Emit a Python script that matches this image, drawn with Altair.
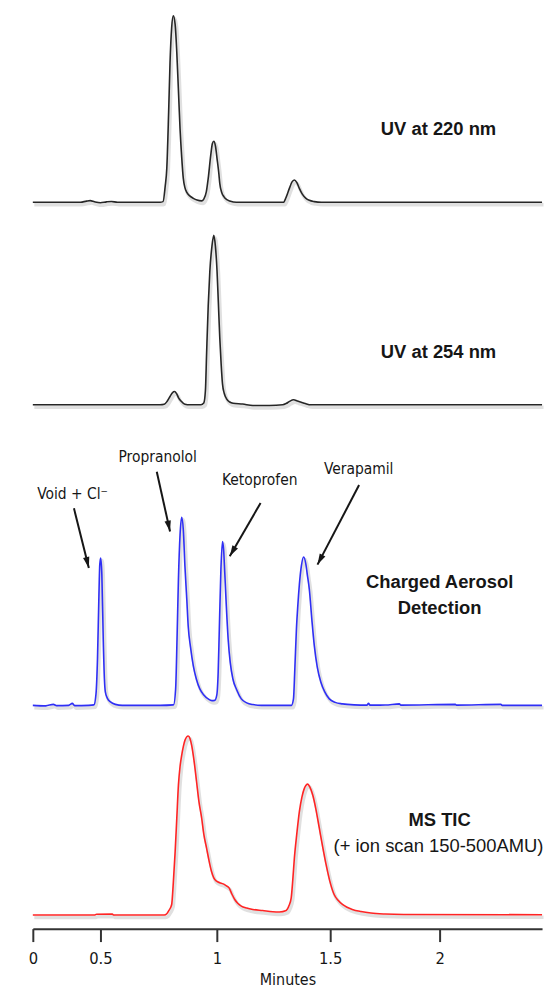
import altair as alt
import pandas as pd

# ---------------- data (time in minutes, response in arbitrary units above baseline) ----------------
uv220_t = [0, 0.353, 0.397, 0.424, 0.456, 0.5, 0.526, 0.547, 0.573, 0.756, 0.769, 0.778, 0.785, 0.793,
           0.799, 0.806, 0.813, 0.821, 0.828, 0.835, 0.842, 0.849, 0.856, 0.863, 0.871, 0.885, 0.899,
           0.915, 0.935, 0.944, 0.955, 0.963, 0.974, 0.981, 0.987, 0.994, 1.001, 1.009, 1.013, 1.022,
           1.031, 1.044, 1.057, 1.086, 1.294, 1.305, 1.320, 1.331, 1.342, 1.353, 1.364, 1.377, 1.393,
           1.408, 1.430, 1.461, 2.468]
uv220_s = [0, 0, 1.2, 1.7, 0.5, -0.5, 0.4, 0.8, 0, 0, 0.7, 15.7, 34, 90.7,
           140.7, 175.7, 187.4, 178.7, 150.7, 112.7, 74, 45.7, 24, 14.7, 10, 6.2, 4,
           2.2, 1.4, 3.2, 10.7, 24, 47.7, 59.2, 61.4, 56.7, 44, 28.7, 19, 9.7,
           5.7, 2.7, 1.4, 0, 0, 4.7, 14, 20.2, 22.4, 19.7, 14, 8.2, 4,
           2, 0.7, 0, 0]

uv254_t = [0, 0.756, 0.774, 0.786, 0.799, 0.810, 0.818, 0.827, 0.835, 0.846, 0.863, 0.885, 0.932,
           0.944, 0.951, 0.956, 0.963, 0.970, 0.979, 0.987, 0.994, 1.001, 1.007, 1.013, 1.019, 1.025,
           1.033, 1.043, 1.057, 1.072, 1.114, 1.159, 1.232, 1.291, 1.306, 1.320, 1.339, 1.355, 1.372,
           1.390, 1.415, 2.468]
uv254_s = [0, 0, 0.5, 3.3, 8.3, 12.3, 13.3, 11.3, 7.3, 3.8, 0.6, 0, 0,
           1.8, 14.3, 51, 99.3, 134.3, 159.3, 170.3, 159.3, 134.3, 101.3, 67.6, 41.3, 21,
           11.3, 6, 2.8, 1.6, 0.8, -0.7, -0.7, 0, 1.3, 3.3, 5, 3.8, 2.6,
           1.3, 0, 0]

cad_t = [0, 0.096, 0.152, 0.176, 0.265, 0.292, 0.309, 0.412, 0.452, 0.467, 0.478, 0.488, 0.495,
         0.501, 0.506, 0.512, 0.517, 0.521, 0.530, 0.543, 0.564, 0.594, 0.756, 0.814, 0.823, 0.829,
         0.835, 0.842, 0.849, 0.856, 0.863, 0.871, 0.877, 0.887, 0.899, 0.912, 0.927, 0.944, 0.963,
         0.979, 0.991, 1.000, 1.006, 1.011, 1.018, 1.025, 1.030, 1.035, 1.042, 1.050, 1.059, 1.071,
         1.088, 1.108, 1.132, 1.159, 1.197, 1.329, 1.338, 1.344, 1.351, 1.357, 1.364, 1.373, 1.383,
         1.393, 1.399, 1.408, 1.419, 1.430, 1.443, 1.459, 1.476, 1.496, 1.523, 1.556, 1.609, 1.668,
         1.675, 1.682, 1.752, 1.816, 1.823, 2.072, 2.077, 2.280, 2.286, 2.468]
cad_s = [0, -0.5, 1, -0.3, 0, 2, -0.3, 0, 0.5, 11.5, 46.5, 106.5, 141.5,
         148.2, 131.5, 66.5, 26.5, 13.5, 7, 3.5, 1, 0, 0, 0.5, 16.5, 66.5,
         126.5, 171.5, 189.2, 176.5, 139.8, 106.5, 79.8, 58.5, 39.8, 26.5, 16.5, 10.5, 6.5,
         4.8, 5, 10.5, 33.5, 76.5, 136.5, 164.8, 156.5, 133.5, 99.5, 66.5, 43.5, 26.5,
         15.5, 6.5, 2.5, 0.8, 0, 0, 6.5, 36.5, 76.5, 99.8, 121.5, 140.5, 149.2,
         141.5, 131.5, 116.5, 86.5, 59.8, 38.5, 23.2, 13.5, 6.5, 3, 1.5, 0.5, 0.2,
         2, 0.2, 0.3, 1.5, 0.2, 1, 0.2, 1, 0, 0]

ms_t = [0, 0.456, 0.471, 0.551, 0.556, 0.774, 0.785, 0.795, 0.806, 0.813, 0.821, 0.828, 0.835,
        0.842, 0.849, 0.856, 0.863, 0.877, 0.885, 0.892, 0.902, 0.913, 0.923, 0.935, 0.944, 0.956,
        0.966, 0.977, 0.987, 0.999, 1.013, 1.028, 1.039, 1.054, 1.066, 1.079, 1.092, 1.108, 1.132,
        1.159, 1.202, 1.247, 1.276, 1.306, 1.318, 1.328, 1.335, 1.342, 1.353, 1.364, 1.375, 1.386,
        1.401, 1.410, 1.423, 1.437, 1.452, 1.467, 1.482, 1.498, 1.518, 1.536, 1.556, 1.577, 1.601,
        1.641, 1.686, 1.750, 1.836, 2.468]
ms_s = [0, 0, 0.8, 1, 0, 0, 1.3, 4.8, 10.6, 32.3, 64, 97.3, 130.6,
        149.3, 160.6, 169.3, 175.6, 180, 177.3, 170.6, 155.3, 134, 114.3, 97.3, 81.3, 67.3,
        55.3, 44, 37.3, 34, 32.5, 31.3, 29.8, 27.3, 21.3, 15.6, 11.8, 9, 7,
        5.6, 4.5, 3.3, 3.1, 4.6, 9.3, 17.3, 35.3, 57.3, 82.3, 104, 118.3, 127.3,
        131.6, 128.8, 120.6, 106.3, 87.3, 68.3, 50.6, 34.3, 20.6, 14.8, 10.6, 7.8, 5.6,
        3.5, 2, 1, 0.5, 0.3]

# peak annotations on the charged aerosol trace
peak_names = ["Void + Cl\u207b", "Propranolol", "Ketoprofen", "Verapamil"]
label_t = [0.294, 0.746, 1.189, 1.630]
label_s = [212.5, 249.5, 226.5, 237.5]
arrow_t0 = [0.304, 0.742, 1.193, 1.632]
arrow_s0 = [198.2, 234.8, 203.5, 221.5]
arrow_t1 = [0.414, 0.799, 1.057, 1.444]
arrow_s1 = [138.2, 174.8, 149.8, 141.5]
arrow_angle = [166, 167.5, 210, 207.5]

tick_values = [0, 0.5, 1, 1.5, 2]

# ---------------- styling ----------------
NARROW = "Liberation Sans Narrow, Arial Narrow, DejaVu Sans Condensed, Liberation Sans, sans-serif"
SANS = "Liberation Sans, Arial, Helvetica, sans-serif"
INK = "#161616"

# the printed time axis is not evenly spaced; a piecewise scale reproduces it
xscale = alt.Scale(domain=[0, 0.5, 1, 1.5, 2, 2.468], range=[0, 68, 185, 299, 409, 512],
                   zero=False, nice=False)

time_axis = alt.Axis(values=tick_values, format="~g", title="Minutes", grid=False,
                     domainColor="#333333", domainWidth=2, tickColor="#333333", tickWidth=2,
                     tickSize=13, labelFont=NARROW, labelFontSize=16.5, labelColor=INK,
                     labelPadding=9, labelFlush=False, titleFont=NARROW, titleFontSize=16,
                     titleFontWeight="normal", titleColor=INK, titlePadding=5)


def yscale(lo, hi):
    return alt.Scale(domain=[lo, hi], zero=False, nice=False)


def panel(t, s, color, ydom, height, labels, show_axis=False, extra=None):
    df = pd.DataFrame({"t": t, "s": s})
    ax = time_axis if show_axis else None
    enc = dict(x=alt.X("t:Q", scale=xscale, axis=ax),
               y=alt.Y("s:Q", scale=yscale(*ydom), axis=None))
    shadow = alt.Chart(df).mark_line(color="#000000", opacity=0.12, strokeWidth=3.5,
                                     interpolate="monotone", xOffset=1.5, yOffset=2.5).encode(**enc)
    line = alt.Chart(df).mark_line(color=color, strokeWidth=1.6,
                                   interpolate="monotone").encode(**enc)
    layers = [shadow, line]
    for txt, tt, ss, weight, size, font in labels:
        ldf = pd.DataFrame({"t": [tt], "s": [ss], "label": [txt]})
        layers.append(
            alt.Chart(ldf).mark_text(font=font, fontSize=size, fontWeight=weight, color=INK,
                                     align="center", baseline="middle").encode(
                x=alt.X("t:Q", scale=xscale, axis=ax),
                y=alt.Y("s:Q", scale=yscale(*ydom), axis=None),
                text="label:N",
            )
        )
    if extra is not None:
        layers.extend(extra(ydom, ax))
    return alt.layer(*layers).properties(width=512, height=height)


def cad_annotations(ydom, ax):
    adf = pd.DataFrame({"t": arrow_t0, "s": arrow_s0, "t2": arrow_t1, "s2": arrow_s1,
                        "ang": arrow_angle})
    ldf = pd.DataFrame({"t": label_t, "s": label_s, "label": peak_names})
    rules = alt.Chart(adf).mark_rule(color=INK, strokeWidth=2).encode(
        x=alt.X("t:Q", scale=xscale, axis=ax), x2="t2:Q",
        y=alt.Y("s:Q", scale=yscale(*ydom), axis=None), y2="s2:Q",
    )
    heads = alt.Chart(adf).mark_point(shape="M0,0 L-0.32,1.1 L0.32,1.1 Z", filled=True,
                                      size=400, color=INK, opacity=1, strokeWidth=0).encode(
        x=alt.X("t2:Q", scale=xscale, axis=ax),
        y=alt.Y("s2:Q", scale=yscale(*ydom), axis=None),
        angle=alt.Angle("ang:Q", scale=None),
    )
    names = alt.Chart(ldf).mark_text(font=NARROW, fontSize=15.5, color=INK, align="center",
                                     baseline="middle").encode(
        x=alt.X("t:Q", scale=xscale, axis=ax),
        y=alt.Y("s:Q", scale=yscale(*ydom), axis=None),
        text="label:N",
    )
    return [rules, heads, names]


p1 = panel(uv220_t, uv220_s, "#262626", (-14.3, 200.7), 215,
           [("UV at 220 nm", 1.995, 73.7, "bold", 18.5, SANS)])
p2 = panel(uv254_t, uv254_s, "#262626", (-15.7, 189.3), 205,
           [("UV at 254 nm", 1.995, 53.3, "bold", 18.5, SANS)])
p3 = panel(cad_t, cad_s, "#2f2ff5", (-8.5, 286.5), 295,
           [("Charged Aerosol", 2.0, 123.5, "bold", 18.5, SANS),
            ("Detection", 2.0, 97.5, "bold", 18.5, SANS)],
           extra=cad_annotations)
p4 = panel(ms_t, ms_s, "#ff2424", (-13.7, 202.3), 216,
           [("MS TIC", 2.0, 95.3, "bold", 18.5, SANS),
            ("(+ ion scan 150-500AMU)", 1.995, 69.3, "normal", 18.5, SANS)],
           show_axis=True)

chart = alt.vconcat(p1, p2, p3, p4, spacing=0, bounds="flush").properties(
    padding={"left": 27, "right": 0, "top": 0, "bottom": 0},
    background="white",
).configure_view(stroke=None)

chart.save("out.html", embed_options={"renderer": "svg", "actions": False})
